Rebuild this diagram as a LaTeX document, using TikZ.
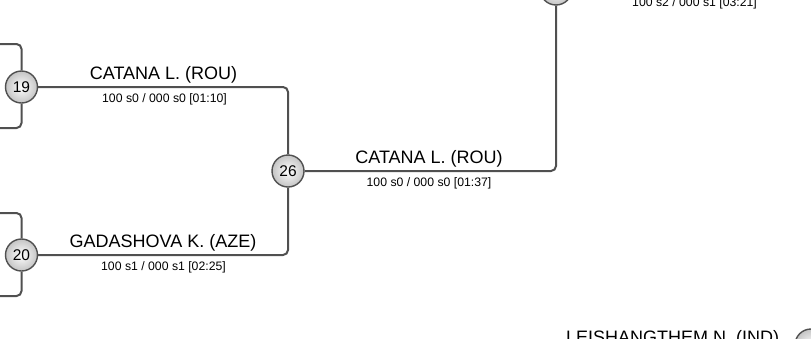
\documentclass[tikz,border=0pt]{standalone}
\usepackage{fontspec}
\setmainfont{Liberation Sans}
\definecolor{linegray}{HTML}{505050}
\definecolor{ballgray}{HTML}{C4C4C4}
\tikzset{
  circ/.style={circle, draw=linegray, line width=1.4pt, minimum size=32pt, inner sep=0pt,
    inner color=white, outer color=ballgray, font=\fontsize{15.5}{16}\selectfont},
  conn/.style={draw=linegray, line width=2pt, rounded corners=5pt},
  pname/.style={anchor=base, inner sep=0pt, font=\fontsize{18}{20}\selectfont},
  pscore/.style={anchor=base, inner sep=0pt, font=\fontsize{12.25}{14}\selectfont}
}
\begin{document}
\begin{tikzpicture}[x=1pt, y=-1pt]
\useasboundingbox (0,0) rectangle (811,338);
\clip (0,0) rectangle (811,338);
% nodes
\node[circ] (n19) at (21.5,87) {19};
\node[circ] (n20) at (21.5,255) {20};
\node[circ] (n26) at (288,171) {26};
\node[circ] (nT) at (556,-11) {};
\node[circ] (nB) at (811,345) {};
% free ends
\coordinate (l19a) at (-3,44);
\coordinate (l19b) at (-3,128);
\coordinate (l20a) at (-3,213);
\coordinate (l20b) at (-3,296);
\coordinate (rT) at (830,-11);
% connectors
\draw[conn] (n19.north) |- (l19a);
\draw[conn] (n19.south) |- (l19b);
\draw[conn] (n20.north) |- (l20a);
\draw[conn] (n20.south) |- (l20b);
\draw[conn] (n19.east) -| (n26.north);
\draw[conn] (n20.east) -| (n26.south);
\draw[conn] (n26.east) -| (nT.south);
\draw[conn] (nT.east) -- (rT);
% labels
\node[pname] (t19) at (163.5,79) {CATANA L. (ROU)};
\node[pscore] (s19) at (164.5,102) {100 s0 / 000 s0 [01:10]};
\node[pname] (t20) at (163,247) {GADASHOVA K. (AZE)};
\node[pscore] (s20) at (163.5,270) {100 s1 / 000 s1 [02:25]};
\node[pname] (t26) at (429,163) {CATANA L. (ROU)};
\node[pscore] (s26) at (429,186) {100 s0 / 000 s0 [01:37]};
\node[pscore] (sT) at (694.5,6) {100 s2 / 000 s1 [03:21]};
\node[pname] (tB) at (672.5,343.5) {LEISHANGTHEM N. (IND)};
\end{tikzpicture}
\end{document}
